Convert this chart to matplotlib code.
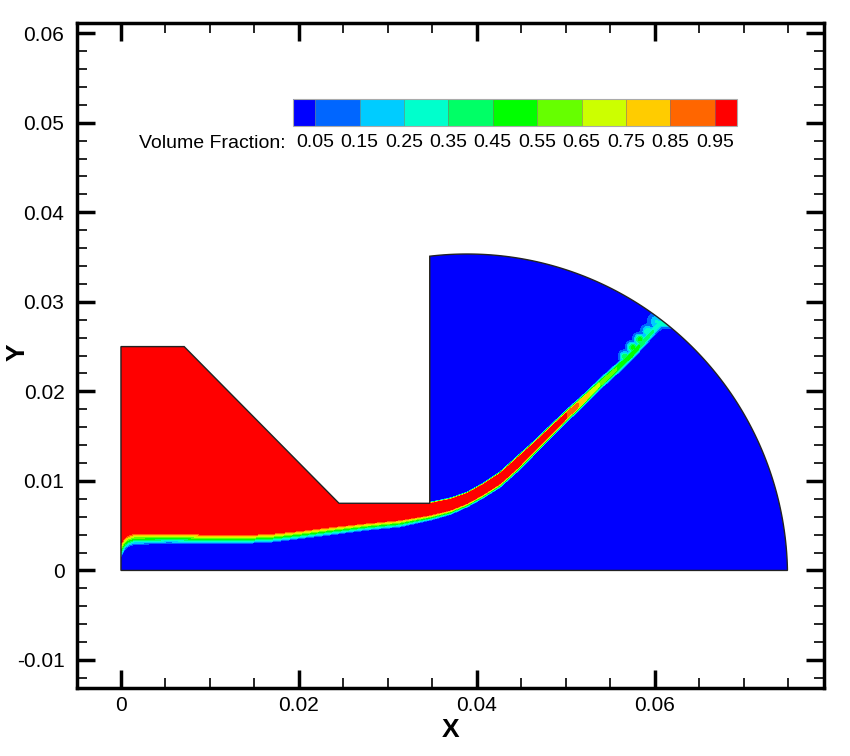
## plot.py
# Volume fraction contours of a liquid sheet leaving a nozzle into a
# quarter-circle chamber, redrawn in the Tecplot look

## Import packages
import numpy as np
import matplotlib
matplotlib.use("Agg")
import matplotlib.pyplot as plt
from matplotlib.path import Path
from matplotlib.patches import PathPatch
from matplotlib.ticker import FuncFormatter, MultipleLocator

## Data
# Contour levels and the colour of each band (lowest to highest)
levels = [0.0, 0.05, 0.15, 0.25, 0.35, 0.45, 0.55, 0.65, 0.75, 0.85, 0.95, 1.0]
bandColors = ["#0000FF", "#0066FF", "#00CCFF", "#00FFCC", "#00FF66", "#00FF00",
              "#66FF00", "#CCFF00", "#FFCC00", "#FF6600", "#FF0000"]
cbarTicks = [0.05, 0.15, 0.25, 0.35, 0.45, 0.55, 0.65, 0.75, 0.85, 0.95]

# Nozzle outline, bottom-left corner to the top of the chamber wall (m)
nozzleX = [0.0, 0.0, 0.0071, 0.0245, 0.0347]
nozzleY = [0.0, 0.025, 0.025, 0.0075, 0.0075]
wallX = 0.0347
# Chamber arc (circle centre and radius)
arcCentre = (0.0389, -0.00066)
arcRadius = 0.0360

# Lower liquid interface inside the nozzle: VF = 0.5 height and band width
nozzleEdgeX = [0.0, 0.0004, 0.0008, 0.0015, 0.0025, 0.0052, 0.0126, 0.0164,
               0.0201, 0.0238, 0.0276, 0.0313, 0.0347]
nozzleEdgeY = [0.0023, 0.0030, 0.0033, 0.00355, 0.00355, 0.0036, 0.0035,
               0.0036, 0.0040, 0.00445, 0.0049, 0.00525, 0.0059]
nozzleEdgeW = [0.0018, 0.0015, 0.0014, 0.0014, 0.0014, 0.0012, 0.0011,
               0.0011, 0.0010, 0.0010, 0.0009, 0.0009, 0.0007]

# Liquid sheet in the chamber: upper/lower edges, band widths, peak VF
jetX = [0.0347, 0.0370, 0.0389, 0.0407, 0.0426, 0.0445, 0.0463, 0.0482,
        0.0501, 0.0520, 0.0538, 0.0557, 0.0575, 0.0606]
jetUpper = [0.00754, 0.0080, 0.00866, 0.00966, 0.0109, 0.0126, 0.0142, 0.0160,
            0.0178, 0.0195, 0.0212, 0.0229, 0.0246, 0.0280]
jetLower = [0.0059, 0.0065, 0.0073, 0.0083, 0.0095, 0.0112, 0.0130, 0.0149,
            0.0168, 0.0186, 0.0204, 0.0221, 0.0238, 0.0272]
jetUpperW = [0.0002, 0.0002, 0.0002, 0.0002, 0.00025, 0.0003, 0.0003, 0.00035,
             0.0004, 0.0004, 0.0005, 0.0005, 0.0005, 0.0006]
jetLowerW = [0.0007, 0.0006, 0.0005, 0.0005, 0.0005, 0.0005, 0.0005, 0.0005,
             0.0005, 0.0005, 0.0005, 0.0005, 0.0005, 0.0006]
jetPeak = [1.0, 1.0, 1.0, 1.0, 1.0, 1.0, 1.0, 1.0, 0.95, 0.8, 0.65, 0.55,
           0.5, 0.3]

# Droplet blobs where the sheet breaks up near the outlet
blobX = [0.0602, 0.0592, 0.0583, 0.0575, 0.0566]
blobY = [0.0278, 0.0267, 0.0258, 0.0249, 0.0239]
blobR = [0.0008, 0.0006, 0.00055, 0.00055, 0.0005]
blobVF = [0.26, 0.34, 0.5, 0.5, 0.45]

## Functions
# Linear 0..1 ramp centred on zero
def Ramp(t):
    return np.clip(0.5 + t, 0.0, 1.0)

# Closed path of the computational domain (nozzle + chamber)
def DomainPath():
    cx, cy = arcCentre
    xEnd = cx + np.sqrt(arcRadius**2 - cy**2)
    yWall = cy + np.sqrt(arcRadius**2 - (wallX - cx)**2)
    thEnd = np.arctan2(0.0 - cy, xEnd - cx)
    thStart = np.arctan2(yWall - cy, wallX - cx)
    th = np.linspace(thEnd, thStart, 200)
    arcPts = np.column_stack([cx + arcRadius * np.cos(th),
                              cy + arcRadius * np.sin(th)])
    nozzlePts = np.column_stack([nozzleX, nozzleY])[::-1]
    verts = np.vstack([[[0.0, 0.0], [xEnd, 0.0]], arcPts, nozzlePts])
    verts = np.vstack([verts, verts[:1]])
    codes = [Path.MOVETO] + [Path.LINETO] * (len(verts) - 2) + [Path.CLOSEPOLY]
    return Path(verts, codes)

## Build the volume fraction field
gx = np.linspace(0.0, 0.0755, 1510)
gy = np.linspace(0.0, 0.0365, 730)
X, Y = np.meshgrid(gx, gy)

# Nozzle part: liquid above the lower interface
nEdge = np.interp(X, nozzleEdgeX, nozzleEdgeY)
nWidth = np.interp(X, nozzleEdgeX, nozzleEdgeW)
vfNozzle = Ramp((Y - nEdge) / nWidth)

# Chamber part: sheet bounded above and below
up = np.interp(X, jetX, jetUpper)
lo = np.interp(X, jetX, jetLower)
upW = np.interp(X, jetX, jetUpperW)
loW = np.interp(X, jetX, jetLowerW)
peak = np.interp(X, jetX, jetPeak)
vfJet = peak * Ramp((Y - lo) / loW) * Ramp((up - Y) / upW)

vf = np.where(X <= wallX, vfNozzle, vfJet)
for bx, by, br, bv in zip(blobX, blobY, blobR, blobVF):
    vf = np.maximum(vf, bv * np.exp(-((X - bx)**2 + (Y - by)**2) / br**2))
vf = np.clip(vf, 0.0, 1.0)

## Plot
plt.rcParams["font.family"] = ["Liberation Sans", "DejaVu Sans"]
fig = plt.figure(figsize=(8.5, 7.56), dpi=100)
ax = fig.add_axes([77 / 850, 1 - 688 / 756, 747 / 850, 665 / 756])

cs = ax.contourf(X, Y, vf, levels=levels, colors=bandColors)
domain = DomainPath()
clipPatch = PathPatch(domain, facecolor="none", edgecolor="none",
                      transform=ax.transData)
ax.add_patch(clipPatch)
cs.set_clip_path(clipPatch)
ax.add_patch(PathPatch(domain, facecolor="none", edgecolor="#222222",
                       lw=1.0, zorder=3))

ax.set_xlim(-0.00494, 0.0790)
ax.set_ylim(-0.01313, 0.06114)
ax.xaxis.set_major_locator(MultipleLocator(0.02))
ax.xaxis.set_minor_locator(MultipleLocator(0.005))
ax.yaxis.set_major_locator(MultipleLocator(0.01))
ax.yaxis.set_minor_locator(MultipleLocator(0.002))
tickFmt = FuncFormatter(lambda v, p: "0" if abs(v) < 1e-12 else "{:g}".format(round(v, 4)))
ax.xaxis.set_major_formatter(tickFmt)
ax.yaxis.set_major_formatter(tickFmt)
ax.tick_params(which="both", direction="in", top=True, right=True, labelsize=15)
ax.tick_params(which="major", length=13, width=2.5)
ax.tick_params(which="minor", length=7, width=1.2)
ax.tick_params(axis="x", which="major", pad=6)
ax.tick_params(axis="y", which="major", pad=9)
for s in ax.spines.values():
    s.set_linewidth(2.5)
ax.set_xlabel("X", fontsize=19, fontweight="bold", labelpad=2)
fig.text(18 / 850, 1 - 352 / 756, "Y", fontsize=19, fontweight="bold",
         rotation=90, ha="center", va="center")

# Colour legend at the top
cax = fig.add_axes([293 / 850, 1 - 126 / 756, 444 / 850, 27 / 756])
cb = fig.colorbar(cs, cax=cax, orientation="horizontal", spacing="proportional",
                  ticks=cbarTicks, drawedges=True)
cb.ax.set_xticklabels(["{:.2f}".format(t) for t in cbarTicks])
cb.ax.tick_params(length=0, labelsize=14, pad=6)
cb.outline.set_edgecolor("#aaaaaa")
cb.outline.set_linewidth(0.8)
cb.dividers.set_color("#777777")
cb.dividers.set_linewidth(0.4)
fig.text(286 / 850, 1 - 143 / 756, "Volume Fraction:", fontsize=14,
         ha="right", va="center")

fig.savefig("out.png", dpi=100)
